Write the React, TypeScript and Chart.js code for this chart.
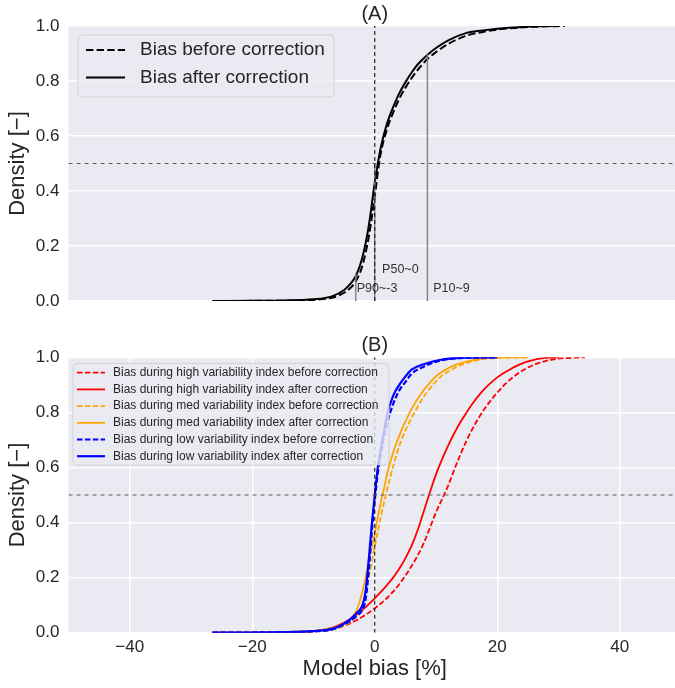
import React, { useEffect, useRef } from 'react';
import { Chart, registerables } from 'chart.js';

Chart.register(...registerables);

const FAM = '"Liberation Sans", Arial, Helvetica, sans-serif';
const TEXT = '#262626';
const BG = '#EAEAF2';

// ---------------- Panel A data ----------------
const aLabels = ['Bias before correction', 'Bias after correction'];
const aBeforeX = [-26.5, -20, -15, -10, -7, -5, -4, -3, -2, -1, 0, 0.7, 1, 2, 3, 4, 5, 6, 7, 8.6, 10, 12, 15, 18, 20, 23, 26, 31];
const aBeforeY = [0, 0.0005, 0.001, 0.004, 0.012, 0.03, 0.047, 0.075, 0.13, 0.23, 0.38, 0.5, 0.54, 0.625, 0.685, 0.735, 0.775, 0.81, 0.84, 0.88, 0.905, 0.935, 0.965, 0.98, 0.987, 0.993, 0.997, 1.0];
const aAfterX = [-26.5, -20, -15, -10, -7, -5, -4, -3, -2, -1, 0, 0.5, 1, 2, 3, 4, 5, 6, 7, 8.6, 10, 12, 15, 18, 20, 23, 26, 29];
const aAfterY = [0, 0.001, 0.002, 0.006, 0.017, 0.04, 0.062, 0.095, 0.16, 0.27, 0.43, 0.5, 0.56, 0.645, 0.705, 0.755, 0.795, 0.83, 0.86, 0.895, 0.92, 0.948, 0.975, 0.985, 0.99, 0.995, 0.999, 1.0];

const pctLabels = ['P90~-3', 'P50~0', 'P10~9'];
const pctX = [-3.1, 0, 8.6];
const pctY = [0.1, 0.5, 0.9];

// ---------------- Panel B data ----------------
const bLabels = [
  'Bias during high variability index before correction',
  'Bias during high variability index after correction',
  'Bias during med variability index before correction',
  'Bias during med variability index after correction',
  'Bias during low variability index before correction',
  'Bias during low variability index after correction',
];
const highBeforeX = [-26.5, -15, -10, -7, -5, -3, -2, -1, 0, 1, 2, 3, 4, 5, 6, 7, 8, 9, 10, 11, 11.3, 12, 13, 14, 15, 16, 17, 18, 19, 20, 21, 22, 23, 24, 25, 26, 27, 28, 29, 31, 34.3];
const highBeforeY = [0, 0.001, 0.004, 0.012, 0.025, 0.045, 0.058, 0.072, 0.089, 0.106, 0.126, 0.149, 0.176, 0.207, 0.242, 0.28, 0.325, 0.38, 0.437, 0.485, 0.5, 0.535, 0.593, 0.648, 0.698, 0.742, 0.781, 0.815, 0.845, 0.872, 0.896, 0.917, 0.935, 0.95, 0.963, 0.973, 0.981, 0.987, 0.992, 0.997, 1.0];
const highAfterX = [-26.5, -15, -10, -7, -5, -4, -3, -2, -1, 0, 1, 2, 3, 4, 5, 6, 7, 8, 8.86, 10, 11, 12, 13, 14, 15, 16, 17, 18, 19, 20, 21, 22, 23, 24, 25, 26, 27, 28, 30];
const highAfterY = [0, 0.002, 0.006, 0.018, 0.037, 0.05, 0.065, 0.083, 0.103, 0.125, 0.148, 0.173, 0.2, 0.232, 0.27, 0.315, 0.372, 0.44, 0.5, 0.575, 0.63, 0.68, 0.725, 0.765, 0.8, 0.833, 0.862, 0.887, 0.908, 0.927, 0.942, 0.955, 0.967, 0.977, 0.985, 0.991, 0.995, 0.998, 1.0];
const medBeforeX = [-26.5, -15, -10, -7, -5, -4, -3, -2, -1, -0.5, 0, 1, 1.8, 3.15, 4.2, 5.3, 6.5, 8, 9.5, 10.8, 12.5, 14.1, 16.8, 20, 25];
const medBeforeY = [0, 0.002, 0.005, 0.012, 0.025, 0.04, 0.06, 0.1, 0.2, 0.255, 0.312, 0.421, 0.5, 0.615, 0.69, 0.748, 0.8, 0.857, 0.9, 0.93, 0.955, 0.972, 0.99, 0.998, 1.0];
const medAfterX = [-26.5, -15, -10, -7, -5, -4, -3, -2, -1.5, -1, -0.5, 0, 0.5, 1, 1.25, 1.5, 2, 2.5, 3, 3.5, 4, 4.8, 6, 7.5, 9, 10.2, 12, 13.5, 16.8, 20, 25];
const medAfterY = [0, 0.003, 0.007, 0.016, 0.032, 0.05, 0.08, 0.15, 0.2, 0.26, 0.31, 0.36, 0.42, 0.475, 0.5, 0.522, 0.575, 0.617, 0.653, 0.686, 0.715, 0.757, 0.812, 0.866, 0.908, 0.935, 0.96, 0.975, 0.993, 0.999, 1.0];
const lowX = [-26.5, -15, -10, -7, -5, -3, -2, -1.5, -1, -0.5, 0, 0.5, 1, 1.5, 2, 3, 4, 5, 6, 8, 11, 15, 20];
const lowBeforeY = [0, 0.002, 0.005, 0.012, 0.03, 0.06, 0.085, 0.12, 0.22, 0.36, 0.48, 0.58, 0.65, 0.71, 0.76, 0.83, 0.88, 0.91, 0.94, 0.966, 0.99, 0.998, 1.0];
const lowAfterY = [0, 0.002, 0.006, 0.014, 0.033, 0.07, 0.1, 0.15, 0.26, 0.39, 0.5, 0.6, 0.67, 0.73, 0.79, 0.86, 0.9, 0.93, 0.955, 0.975, 0.992, 0.999, 1.0];

// ---------------- axes ----------------
const xTicks = [-40, -20, 0, 20, 40];
const yTicks = [0, 0.2, 0.4, 0.6, 0.8, 1.0];
const X_MIN = -50;
const X_MAX = 50;
const MEDIAN_LEVEL = 0.5;

const AXIS_W = 68.5;
const font = (size: number) => `${size}px ${FAM}`;
const pts = (xs: number[], ys: number[]) => xs.map((x, i) => ({ x, y: ys[i] }));
const fmtX = (v: number) => (v < 0 ? '\u2212' + Math.abs(v) : String(v));

function curve(label: string, xs: number[], ys: number[], color: string, width: number, dash: number[]) {
  return {
    label,
    data: pts(xs, ys),
    borderColor: color,
    backgroundColor: color,
    borderWidth: width,
    borderDash: dash,
    pointRadius: 0,
    cubicInterpolationMode: 'monotone',
    fill: false,
  };
}

function refLine(data: { x: number; y: number }[], color: string, width: number, dash: number[]) {
  return { label: '', data, borderColor: color, borderWidth: width, borderDash: dash, pointRadius: 0, tension: 0, fill: false };
}

const bgPlugin = {
  id: 'bgFill',
  beforeDraw(chart: any) {
    const { ctx, chartArea: a } = chart;
    ctx.save();
    ctx.fillStyle = BG;
    ctx.fillRect(a.left, a.top, a.right - a.left, a.bottom - a.top);
    ctx.restore();
  },
};

function titlePlugin(text: string) {
  return {
    id: 'panelTitle',
    afterDraw(chart: any) {
      const { ctx, chartArea: a } = chart;
      ctx.save();
      ctx.font = font(20);
      ctx.fillStyle = TEXT;
      ctx.textAlign = 'center';
      ctx.textBaseline = 'middle';
      ctx.fillText(text, (a.left + a.right) / 2, a.top - 11.5);
      ctx.restore();
    },
  };
}

type LegendCfg = {
  count: number;
  box: [number, number, number, number];
  lineX: [number, number];
  textX: number;
  rowY: number[];
  size: number;
};

function legendPlugin(cfg: LegendCfg) {
  return {
    id: 'boxLegend',
    afterDatasetsDraw(chart: any) {
      const ctx = chart.ctx;
      const [x0, y0, x1, y1] = cfg.box;
      const r = 4;
      ctx.save();
      ctx.beginPath();
      ctx.moveTo(x0 + r, y0);
      ctx.lineTo(x1 - r, y0);
      ctx.arcTo(x1, y0, x1, y0 + r, r);
      ctx.lineTo(x1, y1 - r);
      ctx.arcTo(x1, y1, x1 - r, y1, r);
      ctx.lineTo(x0 + r, y1);
      ctx.arcTo(x0, y1, x0, y1 - r, r);
      ctx.lineTo(x0, y0 + r);
      ctx.arcTo(x0, y0, x0 + r, y0, r);
      ctx.closePath();
      ctx.fillStyle = 'rgba(234,234,242,0.8)';
      ctx.fill();
      ctx.strokeStyle = 'rgba(204,204,204,0.8)';
      ctx.lineWidth = 1;
      ctx.stroke();
      const ds = chart.data.datasets.slice(0, cfg.count);
      ds.forEach((d: any, i: number) => {
        const y = cfg.rowY[i];
        ctx.beginPath();
        ctx.setLineDash(d.borderDash || []);
        ctx.strokeStyle = d.borderColor;
        ctx.lineWidth = d.borderWidth;
        ctx.moveTo(cfg.lineX[0], y);
        ctx.lineTo(cfg.lineX[1], y);
        ctx.stroke();
        ctx.setLineDash([]);
        ctx.font = font(cfg.size);
        ctx.fillStyle = TEXT;
        ctx.textAlign = 'left';
        ctx.textBaseline = 'middle';
        ctx.fillText(d.label, cfg.textX, y);
      });
      ctx.restore();
    },
  };
}

const pctTextPos = [
  { x: -2.95, y: 0.044 },
  { x: 1.2, y: 0.116 },
  { x: 9.55, y: 0.044 },
];

const pctTextPlugin = {
  id: 'pctText',
  afterDatasetsDraw(chart: any) {
    const { ctx, scales } = chart;
    ctx.save();
    ctx.font = font(12.5);
    ctx.fillStyle = '#333333';
    ctx.textAlign = 'left';
    ctx.textBaseline = 'middle';
    pctLabels.forEach((t, i) => {
      ctx.fillText(t, scales.x.getPixelForValue(pctTextPos[i].x), scales.y.getPixelForValue(pctTextPos[i].y));
    });
    ctx.restore();
  },
};

function yScale() {
  return {
    type: 'linear',
    min: 0,
    max: 1,
    afterBuildTicks: (s: any) => {
      s.ticks = yTicks.map((v) => ({ value: v }));
    },
    afterFit: (s: any) => {
      s.width = AXIS_W;
    },
    grid: { color: '#ffffff', lineWidth: 1.5, drawTicks: false },
    border: { display: false },
    ticks: { color: TEXT, font: { family: FAM, size: 17 }, padding: 9, callback: (v: any) => Number(v).toFixed(1) },
    title: { display: true, text: 'Density [\u2212]', color: TEXT, font: { family: FAM, size: 22 }, padding: { top: 5, bottom: 0 } },
  };
}

function refDatasets() {
  return [
    refLine([{ x: X_MIN, y: MEDIAN_LEVEL }, { x: X_MAX, y: MEDIAN_LEVEL }], '#5a5a5a', 1, [4, 4]),
    refLine([{ x: 0, y: 0 }, { x: 0, y: 1 }], '#111111', 1.1, [4, 3]),
  ];
}

function withOrder(ds: any[]) {
  return ds.map((d, i) => ({ ...d, order: -i }));
}

function configA() {
  const pLines = pctX.map((x, i) => refLine([{ x, y: 0 }, { x, y: pctY[i] }], '#808080', 1.4, []));
  const datasets = withOrder([
    curve(aLabels[0], aBeforeX, aBeforeY, '#000000', 2, [7.4, 3.2]),
    curve(aLabels[1], aAfterX, aAfterY, '#000000', 2, []),
    ...pLines,
    ...refDatasets(),
  ]);
  return {
    type: 'line',
    data: { datasets },
    options: {
      animation: false,
      responsive: false,
      events: [],
      layout: { padding: { top: 26, bottom: 29, left: 0, right: 0 } },
      scales: {
        x: { type: 'linear', min: X_MIN, max: X_MAX, display: false },
        y: yScale(),
      },
      plugins: { legend: { display: false }, tooltip: { enabled: false }, title: { display: false } },
    },
    plugins: [
      bgPlugin,
      titlePlugin('(A)'),
      pctTextPlugin,
      legendPlugin({ count: 2, box: [78, 35, 334, 97], lineX: [86, 125], textX: 140, rowY: [50, 77.5], size: 19 }),
    ],
  };
}

function configB() {
  const w = 1.8;
  const wb = 2.2;
  const dash = [5.5, 2.4];
  const datasets = withOrder([
    curve(bLabels[0], highBeforeX, highBeforeY, '#ff0000', w, dash),
    curve(bLabels[1], highAfterX, highAfterY, '#ff0000', w, []),
    curve(bLabels[2], medBeforeX, medBeforeY, '#ffa500', w, dash),
    curve(bLabels[3], medAfterX, medAfterY, '#ffa500', w, []),
    curve(bLabels[4], lowX, lowBeforeY, '#0000ff', wb, dash),
    curve(bLabels[5], lowX, lowAfterY, '#0000ff', wb, []),
    ...refDatasets(),
  ]);
  return {
    type: 'line',
    data: { datasets },
    options: {
      animation: false,
      responsive: false,
      events: [],
      layout: { padding: { top: 27.3, bottom: 0, left: 0, right: 0 } },
      scales: {
        x: {
          type: 'linear',
          min: X_MIN,
          max: X_MAX,
          afterBuildTicks: (s: any) => {
            s.ticks = xTicks.map((v) => ({ value: v }));
          },
          afterFit: (s: any) => {
            s.height = 55.3;
          },
          grid: { color: '#ffffff', lineWidth: 1.5, drawTicks: false },
          border: { display: false },
          ticks: { color: TEXT, font: { family: FAM, size: 17 }, padding: 4, maxRotation: 0, callback: (v: any) => fmtX(Number(v)) },
          title: { display: true, text: 'Model bias [%]', color: TEXT, font: { family: FAM, size: 22 }, padding: { top: 0, bottom: 6 } },
        },
        y: yScale(),
      },
      plugins: { legend: { display: false }, tooltip: { enabled: false }, title: { display: false } },
    },
    plugins: [
      bgPlugin,
      titlePlugin('(B)'),
      legendPlugin({
        count: 6,
        box: [73, 33.3, 389, 135],
        lineX: [77, 105],
        textX: 113,
        rowY: [42.7, 59.4, 76.1, 92.8, 109.5, 126.2],
        size: 12,
      }),
    ],
  };
}

function Panel({ top, height, make }: { top: number; height: number; make: () => any }) {
  const ref = useRef<HTMLCanvasElement | null>(null);
  useEffect(() => {
    if (!ref.current) return;
    const chart = new Chart(ref.current, make());
    return () => chart.destroy();
  }, []);
  return (
    <canvas
      ref={ref}
      width={681}
      height={height}
      style={{ position: 'absolute', left: 0, top, width: 681, height, display: 'block' }}
    />
  );
}

export default function App() {
  return (
    <div style={{ position: 'absolute', left: 0, top: 0, width: 675, height: 688, overflow: 'hidden', background: '#ffffff' }}>
      <Panel top={0} height={330} make={configA} />
      <Panel top={330} height={358} make={configB} />
    </div>
  );
}
